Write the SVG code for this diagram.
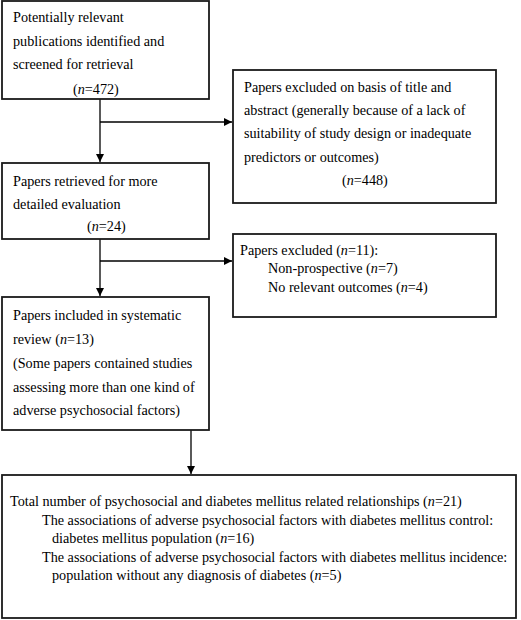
<svg xmlns="http://www.w3.org/2000/svg" width="521" height="620" viewBox="0 0 521 620">
<defs>
<style>
.box{fill:#fff;stroke:#1a1a1a;stroke-width:1.8}
.t{font-family:"Liberation Serif","Times New Roman",serif;font-size:14.2px;fill:#000}
.c{stroke:#000;stroke-width:1.3;fill:none}
.i{font-style:italic}
</style>
<marker id="ah" viewBox="0 0 10 10" refX="10" refY="5" markerWidth="8" markerHeight="8" markerUnits="userSpaceOnUse" orient="auto">
<path d="M0,0 L10,5 L0,10 Z" fill="#000"/>
</marker>
</defs>
<rect width="521" height="620" fill="#fff"/>
<g id="connectors">
<line class="c" x1="100" y1="99" x2="100" y2="162" marker-end="url(#ah)"/>
<line class="c" x1="100" y1="122" x2="232" y2="122" marker-end="url(#ah)"/>
<line class="c" x1="100" y1="239" x2="100" y2="296" marker-end="url(#ah)"/>
<line class="c" x1="100" y1="261" x2="232" y2="261" marker-end="url(#ah)"/>
<line class="c" x1="191" y1="430" x2="191" y2="474" marker-end="url(#ah)"/>
</g>
<g id="n1">
<rect class="box" x="2" y="1" width="207" height="98"/>
<text class="t" x="13" y="22">Potentially relevant</text>
<text class="t" x="13" y="46">publications identified and</text>
<text class="t" x="13" y="69">screened for retrieval</text>
<text class="t" x="73" y="94">(<tspan class="i">n</tspan>=472)</text>
</g>
<g id="n2">
<rect class="box" x="233" y="70" width="263" height="133"/>
<text class="t" x="244" y="92">Papers excluded on basis of title and</text>
<text class="t" x="244" y="115">abstract (generally because of a lack of</text>
<text class="t" x="244" y="138">suitability of study design or inadequate</text>
<text class="t" x="244" y="162">predictors or outcomes)</text>
<text class="t" x="342" y="185">(<tspan class="i">n</tspan>=448)</text>
</g>
<g id="n3">
<rect class="box" x="2" y="163" width="207" height="76"/>
<text class="t" x="13" y="186">Papers retrieved for more</text>
<text class="t" x="13" y="209">detailed evaluation</text>
<text class="t" x="87" y="231">(<tspan class="i">n</tspan>=24)</text>
</g>
<g id="n4">
<rect class="box" x="233" y="234" width="263" height="83"/>
<text class="t" x="240" y="255">Papers excluded (<tspan class="i">n</tspan>=11):</text>
<text class="t" x="268" y="273">Non-prospective (<tspan class="i">n</tspan>=7)</text>
<text class="t" x="268" y="292">No relevant outcomes (<tspan class="i">n</tspan>=4)</text>
</g>
<g id="n5">
<rect class="box" x="2" y="297" width="207" height="133"/>
<text class="t" x="13" y="320">Papers included in systematic</text>
<text class="t" x="13" y="344">review (<tspan class="i">n</tspan>=13)</text>
<text class="t" x="13" y="368">(Some papers contained studies</text>
<text class="t" x="13" y="392">assessing more than one kind of</text>
<text class="t" x="13" y="415">adverse psychosocial factors)</text>
</g>
<g id="n6">
<rect class="box" x="2" y="475" width="514" height="143"/>
<text class="t" x="10" y="506">Total number of psychosocial and diabetes mellitus related relationships (<tspan class="i">n</tspan>=21)</text>
<text class="t" x="42" y="524.5">The associations of adverse psychosocial factors with diabetes mellitus control:</text>
<text class="t" x="52" y="543">diabetes mellitus population (<tspan class="i">n</tspan>=16)</text>
<text class="t" x="42" y="561.5">The associations of adverse psychosocial factors with diabetes mellitus incidence:</text>
<text class="t" x="52" y="580">population without any diagnosis of diabetes (<tspan class="i">n</tspan>=5)</text>
</g>
</svg>
